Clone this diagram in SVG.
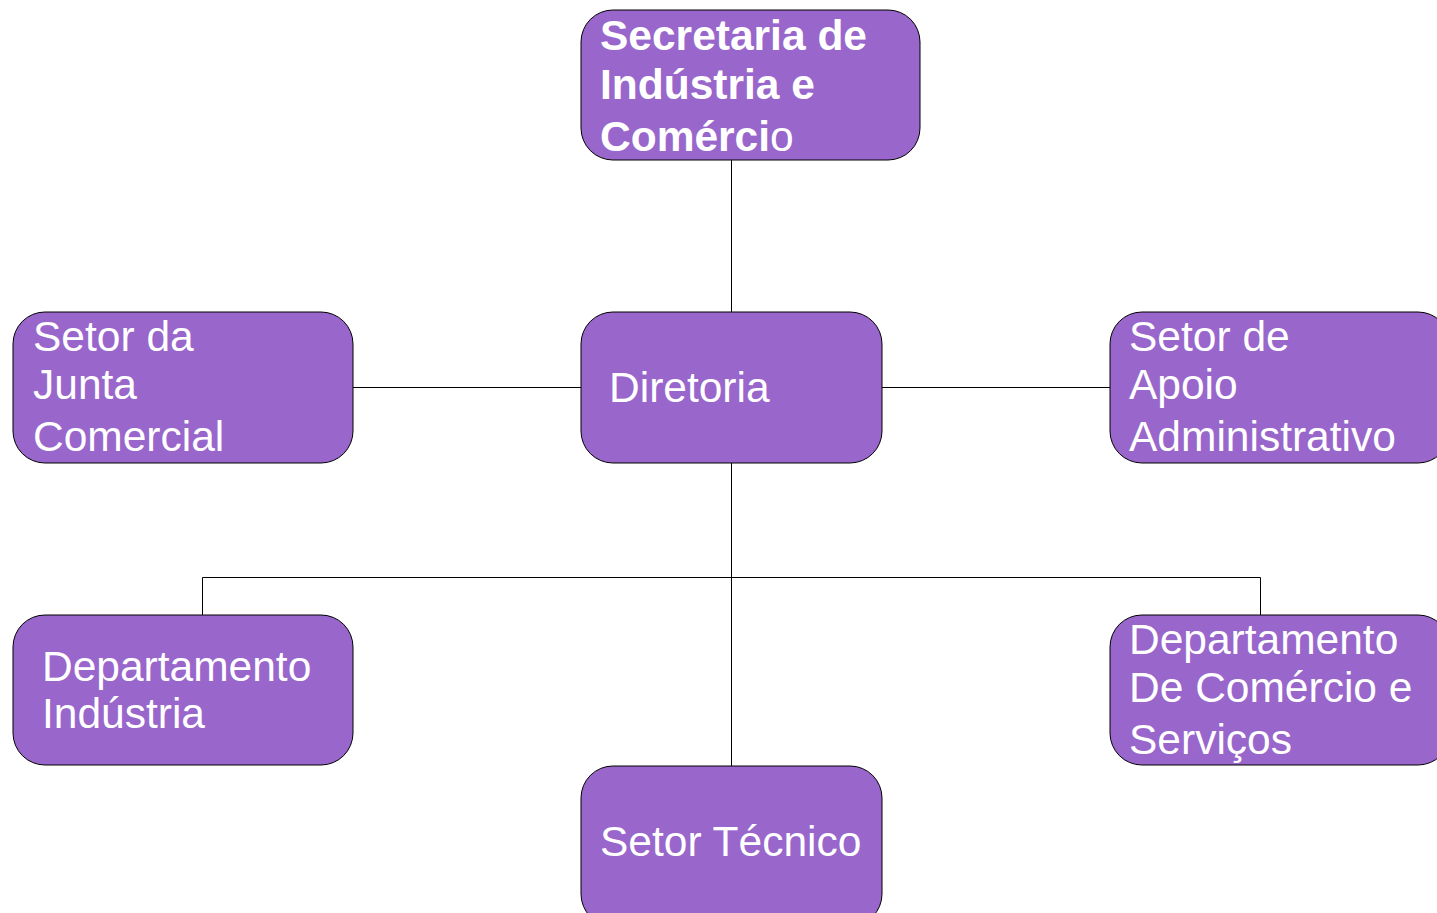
<svg xmlns="http://www.w3.org/2000/svg" width="1437" height="913" viewBox="0 0 1437 913">
<style>
.box{fill:#9966cc;stroke:#000;stroke-width:1}
.t{font-family:"Liberation Sans",Arial,sans-serif;font-size:42.5px;fill:#fff}
.b{font-weight:bold}
.c{stroke:#000;stroke-width:1;fill:none}
</style>
<rect width="1437" height="913" fill="#fff"/>
<g id="connectors">
<path class="c" d="M731.5 160V312"/>
<path class="c" d="M353 387.5H581"/>
<path class="c" d="M882 387.5H1110"/>
<path class="c" d="M731.5 463V766"/>
<path class="c" d="M202.5 615V577.5H1260.5V615"/>
</g>
<g id="secretaria">
<rect class="box" x="581" y="10" width="339" height="150" rx="32"/>
<text class="t b" x="600" y="50">Secretaria de</text>
<text class="t b" x="600" y="99">Indústria e</text>
<text class="t" x="600" y="151"><tspan class="b">Comérci</tspan>o</text>
</g>
<g id="juntacomercial">
<rect class="box" x="13" y="312" width="340" height="151" rx="32"/>
<text class="t" x="33" y="351">Setor da</text>
<text class="t" x="33" y="399">Junta</text>
<text class="t" x="33" y="451">Comercial</text>
</g>
<g id="diretoria">
<rect class="box" x="581" y="312" width="301" height="151" rx="32"/>
<text class="t" x="609" y="402">Diretoria</text>
</g>
<g id="apoio">
<rect class="box" x="1110" y="312" width="340" height="151" rx="32"/>
<text class="t" x="1129" y="351">Setor de</text>
<text class="t" x="1129" y="399">Apoio</text>
<text class="t" x="1129" y="451">Administrativo</text>
</g>
<g id="industria">
<rect class="box" x="13" y="615" width="340" height="150" rx="32"/>
<text class="t" x="42" y="681">Departamento</text>
<text class="t" x="42" y="728">Indústria</text>
</g>
<g id="comercio">
<rect class="box" x="1110" y="615" width="340" height="150" rx="32"/>
<text class="t" x="1129" y="654">Departamento</text>
<text class="t" x="1129" y="702">De Comércio e</text>
<text class="t" x="1129" y="754">Serviços</text>
</g>
<g id="tecnico">
<rect class="box" x="581" y="766" width="301" height="160" rx="32"/>
<text class="t" x="600" y="856">Setor Técnico</text>
</g>
</svg>
